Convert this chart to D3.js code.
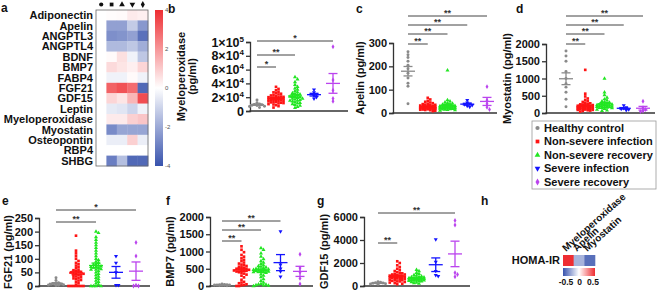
<!DOCTYPE html>
<html>
<head>
<meta charset="utf-8">
<script src="https://cdn.jsdelivr.net/npm/d3@7"></script>
<style>
body { margin:0; background:#fff; }
svg text { font-family:"Liberation Sans", Arial, sans-serif; font-weight:bold; fill:#111; }
</style>
</head>
<body>
<svg id="fig" width="658" height="291"></svg>
<script>
// grupos
const grupos = ["Healthy control", "Non-severe infection", "Non-severe recovery", "Severe infection", "Severe recovery"];

// heatmap (a): log2 fold change vs healthy control
const proteinas = ["Adiponectin","Apelin","ANGPTL3","ANGPTL4","BDNF","BMP7","FABP4","FGF21","GDF15","Leptin","Myeloperoxidase","Myostatin","Osteopontin","RBP4","SHBG"];
const fcNaoGraveInf = [0.05, -2.2, -2.6, -1.6, 0.1, 0.7, -0.3, 3.0, 0.8, -0.5, 0.4, -2.7, -0.4, 0, -3.0];
const fcNaoGraveRec = [0.1, -2.2, -2.5, -1.6, 0.6, 0.5, -0.3, 3.3, 0.5, -0.6, 0.4, -2.1, -0.4, 0, -1.5];
const fcGraveInf    = [0.4, -1.2, -2.2, -1.3, -0.3, 0.3, 0.1, 2.8, 1.4, -1.0, 0.9, -2.1, 0.9, 0, -3.5];
const fcGraveRec    = [0.3, -2.4, -3.3, -1.9, -1.3, 0.8, -0.3, -3.5, 3.4, -0.3, 1.1, -2.1, -0.4, 0, -3.5];
const escalaTicks = [4, 2, 0, -2, -4];

// b Myeloperoxidase
const mpoValores = [
  [5000, 6500, 7000, 8000, 8500, 9000, 9500, 10000, 12000, 16000],
  [5000, 7000, 8500, 9500, 10000, 11000, 11500, 12000, 13000, 13500, 14000, 14500, 15000, 15500, 16000, 16500, 17000, 17500, 18000, 18500, 19000, 19500, 20000, 20500, 21000, 22000, 22500, 23000, 24000, 25000, 26000, 27000, 28000, 30000, 32000, 35000, 16000, 18000, 20000, 12500],
  [4500, 6000, 8000, 9000, 10000, 11000, 12000, 13000, 14000, 15000, 16000, 17000, 18000, 19000, 20000, 21000, 22000, 23000, 24000, 25000, 26000, 27000, 29000, 31000, 33000, 35000, 38000, 42000, 46000, 49000, 15000, 18000, 21000],
  [18000, 20000, 22000, 24000, 27000, 31000],
  [93000, 45000, 30000, 18000, 14000]
];
const mpoTicks = [0, 20000, 40000, 60000, 80000, 100000];
const mpoSig = [[0, 4, "*"], [0, 2, "**"], [0, 1, "*"]];

// c Apelin
const apelinaValores = [
  [262, 250, 238, 222, 205, 190, 170, 150, 128, 115, 40],
  [8, 10, 12, 13, 14, 15, 16, 17, 18, 18, 19, 20, 20, 21, 22, 22, 23, 24, 25, 25, 26, 27, 28, 29, 30, 31, 32, 33, 35, 36, 38, 40, 42, 45, 48, 52, 58, 65, 20, 24],
  [10, 12, 14, 15, 16, 17, 18, 19, 20, 21, 22, 22, 23, 24, 25, 26, 27, 28, 29, 30, 31, 32, 34, 36, 38, 40, 43, 46, 50, 55, 183, 20, 24],
  [26, 30, 34, 37, 40, 44, 55],
  [113, 55, 40, 25, 15]
];
const apelinaTicks = [0, 100, 200, 300];
const apelinaSig = [[0, 4, "**"], [0, 3, "**"], [0, 2, "**"], [0, 1, "**"]];

// d Myostatin
const miostatinaValores = [
  [1800, 1650, 1500, 1200, 1000, 850, 750, 600, 400, 180],
  [40, 60, 70, 80, 90, 100, 110, 120, 130, 140, 150, 150, 160, 170, 180, 190, 200, 200, 210, 220, 230, 240, 250, 260, 280, 300, 320, 340, 380, 420, 480, 560, 1250, 120, 140, 160, 180, 200, 90, 110],
  [60, 80, 100, 120, 140, 150, 160, 170, 180, 190, 200, 210, 220, 230, 240, 250, 260, 280, 300, 320, 340, 370, 400, 450, 520, 600, 1000, 150, 200, 250, 180],
  [80, 100, 120, 140, 160, 220],
  [340, 150, 100, 60, 40]
];
const miostatinaTicks = [0, 500, 1000, 1500, 2000];
const miostatinaSig = [[0, 4, "**"], [0, 3, "**"], [0, 2, "**"], [0, 1, "**"]];

// e FGF21
const fgf21Valores = [
  [2, 3, 4, 5, 6, 7, 8, 10, 12, 20, 30],
  [0, 0, 0, 0, 0, 0, 0, 5, 10, 15, 20, 22, 25, 28, 30, 32, 35, 38, 40, 42, 45, 48, 50, 52, 55, 58, 60, 65, 70, 75, 80, 85, 92, 100, 110, 120, 130, 185, 45, 50],
  [0, 0, 0, 0, 5, 10, 15, 20, 25, 30, 35, 40, 45, 50, 55, 60, 62, 65, 68, 70, 72, 75, 78, 80, 85, 90, 95, 100, 110, 120, 130, 140, 150, 160, 170, 180, 195, 200, 60, 70],
  [110, 85, 50, 3, 3],
  [160, 110, 0, 0, 3]
];
const fgf21Ticks = [0, 50, 100, 150, 200, 250];
const fgf21Sig = [[0, 4, "*"], [0, 2, "**"]];

// f BMP7
const bmp7Valores = [
  [10, 15, 20, 25, 28, 30, 32, 35, 40, 45, 60],
  [0, 0, 20, 50, 80, 120, 180, 250, 300, 330, 360, 380, 400, 420, 440, 450, 460, 480, 500, 520, 540, 560, 580, 600, 620, 650, 680, 720, 760, 800, 850, 900, 980, 1050, 1150, 450, 470, 500, 30, 100],
  [0, 10, 20, 40, 60, 100, 150, 200, 260, 300, 340, 380, 400, 420, 440, 450, 460, 470, 480, 500, 520, 540, 560, 580, 600, 640, 680, 720, 780, 850, 950, 1050, 1100, 430, 460, 30, 50, 480, 500, 400],
  [1580, 620, 500, 420, 270],
  [920, 520, 400, 220, 60]
];
const bmp7Ticks = [0, 500, 1000, 1500, 2000];
const bmp7Sig = [[0, 3, "**"], [0, 2, "**"], [0, 1, "**"]];

// g GDF15
const gdf15Valores = [
  [150, 180, 200, 230, 260, 290, 320, 380],
  [150, 200, 250, 300, 350, 400, 450, 500, 550, 600, 650, 700, 720, 750, 780, 800, 820, 850, 880, 900, 950, 1000, 1050, 1100, 1150, 1200, 1300, 1400, 1500, 1650, 1800, 2000, 2150, 600, 700, 800, 900, 500, 400, 1000],
  [200, 250, 300, 350, 400, 420, 450, 480, 500, 520, 550, 580, 600, 620, 650, 680, 700, 720, 750, 780, 800, 850, 900, 950, 1050, 1150, 1300, 1400, 600, 550, 500, 650, 700],
  [4050, 2100, 1300, 950, 850],
  [5700, 5300, 1150, 800, 1000]
];
const gdf15Ticks = [0, 2000, 4000, 6000];
const gdf15Sig = [[0, 4, "**"], [0, 1, "**"]];

// h HOMA-IR correlation
const homaProteinas = ["Myeloperoxidase", "Apelin", "Myostatin"];
const homaValores = [0.5, -0.22, -0.42];
const homaTicks = [-0.5, 0, 0.5];

// ---------- estilo ----------
const cores = ["#8a8a8a", "#ff1414", "#22e622", "#1414ff", "#bb44ee"];
const simbolos = [d3.symbolCircle, d3.symbolSquare, d3.symbolTriangle, d3.symbolTriangle, d3.symbolDiamond];
const rotacao = [0, 0, 0, 180, 0];
const azul = "#3853ad", vermelho = "#ee2d32";

const svg = d3.select("#fig");

function marcador(g, i, x, y, tam, cor) {
    g.append("path")
        .attr("d", d3.symbol().type(simbolos[i]).size(tam)())
        .attr("transform", "translate(" + x + "," + y + ") rotate(" + rotacao[i] + ")")
        .attr("fill", cor || cores[i]);
}

// ---------- a: heatmap ----------
const colX = d3.scaleBand().domain(d3.range(5)).range([96, 148]);
const linhaY = d3.scaleBand().domain(proteinas).range([10, 166]);
const corHM = d3.scaleLinear().domain([-4, 0, 4]).range([azul, "#ffffff", vermelho]).clamp(true);

svg.append("text").attr("x", 1).attr("y", 12).attr("font-size", 12).text("a");

const gA = svg.append("g");
proteinas.forEach((p, i) => {
    const vals = [0, fcNaoGraveInf[i], fcNaoGraveRec[i], fcGraveInf[i], fcGraveRec[i]];
    vals.forEach((v, j) => {
        gA.append("rect")
            .attr("x", colX(j)).attr("y", linhaY(p))
            .attr("width", colX.bandwidth() + 0.3).attr("height", linhaY.bandwidth() + 0.3)
            .attr("fill", corHM(v));
    });
    gA.append("text")
        .attr("x", 93).attr("y", linhaY(p) + linhaY.bandwidth() / 2)
        .attr("dy", "0.36em").attr("text-anchor", "end").attr("font-size", 11)
        .text(p);
});
gA.append("rect").attr("x", 96).attr("y", 10).attr("width", 52).attr("height", 156)
    .attr("fill", "none").attr("stroke", "#666").attr("stroke-width", 0.8);
grupos.forEach((gr, j) => marcador(gA, j, colX(j) + colX.bandwidth() / 2, 4.5, 14, "#111"));

// colorbar
const defs = svg.append("defs");
const gradV = defs.append("linearGradient").attr("id", "gradV").attr("x1", 0).attr("y1", 1).attr("x2", 0).attr("y2", 0);
[-4, 0, 4].forEach((v, k) => gradV.append("stop").attr("offset", k / 2).attr("stop-color", corHM(v)));
svg.append("rect").attr("x", 155).attr("y", 10).attr("width", 8).attr("height", 156).attr("fill", "url(#gradV)");
const yCB = d3.scaleLinear().domain([-4, 4]).range([166, 10]);
svg.selectAll(".cbtick").data(escalaTicks).join("text")
    .attr("x", 165).attr("y", d => yCB(d) + 2)
    .attr("font-size", 6).style("font-weight", "normal").style("fill", "#555")
    .text(d => d);

// ---------- painéis de pontos ----------
function fmtSci(g) {
    g.selectAll(".tick text").each(function(d) {
        const t = d3.select(this);
        t.text(null);
        if (d === 0) { t.text("0"); return; }
        const e = Math.floor(Math.log10(d) + 1e-9);
        const m = Math.round(d / Math.pow(10, e));
        t.append("tspan").text(m + "\u00d710");
        t.append("tspan").attr("dy", -5).style("font-size", "8px").text(e);
    });
}

function enxame(vals, y, passo, maxW) {
    const pts = vals.map(v => ({ v: v, y: y(v) })).sort((a, b) => a.y - b.y);
    const postos = [];
    const cands = [0];
    for (let k = 1; k * passo <= maxW; k++) { cands.push(k * passo, -k * passo); }
    pts.forEach(p => {
        let melhor = 0, melhorD = -1;
        for (const dx of cands) {
            let dmin = Infinity;
            postos.forEach(q => { const d = Math.hypot(q.x - dx, q.y - p.y); if (d < dmin) dmin = d; });
            if (dmin >= passo) { melhor = dx; break; }
            if (dmin > melhorD) { melhorD = dmin; melhor = dx; }
        }
        p.x = melhor;
        postos.push(p);
    });
    return pts;
}

const paineis = [
    { letra: "b", lx: 168, ly: 13, dados: mpoValores, ticks: mpoTicks, sig: mpoSig, sci: true, fs: 12.5,
      eixoX: 250, xIni: 257, xFim: 333, fim: 348, yTop: 42, yBot: 111,
      titulo: ["Myeloperoxidase", "(pg/ml)"], tituloX: [185, 196], sigY: [41, 55, 67] },
    { letra: "c", lx: 356, ly: 13, dados: apelinaValores, ticks: apelinaTicks, sig: apelinaSig,
      eixoX: 393, xIni: 408, xFim: 487, fim: 497, yTop: 43, yBot: 113,
      titulo: ["Apelin (pg/ml)"], tituloX: [364], sigY: [16, 25, 34, 44] },
    { letra: "d", lx: 516, ly: 13, dados: miostatinaValores, ticks: miostatinaTicks, sig: miostatinaSig,
      eixoX: 546, xIni: 566, xFim: 643, fim: 655, yTop: 44, yBot: 113,
      titulo: ["Myostatin (pg/ml)"], tituloX: [511], sigY: [16, 25, 34, 44] },
    { letra: "e", lx: 2, ly: 205, dados: fgf21Valores, ticks: fgf21Ticks, sig: fgf21Sig,
      eixoX: 39, xIni: 56, xFim: 136, fim: 150, yTop: 218, yBot: 286,
      titulo: ["FGF21 (pg/ml)"], tituloX: [12], sigY: [210, 222] },
    { letra: "f", lx: 166, ly: 205, dados: bmp7Valores, ticks: bmp7Ticks, sig: bmp7Sig,
      eixoX: 210, xIni: 222, xFim: 300, fim: 313, yTop: 217, yBot: 286,
      titulo: ["BMP7 (pg/ml)"], tituloX: [174], sigY: [221, 230, 241] },
    { letra: "g", lx: 317, ly: 205, dados: gdf15Valores, ticks: gdf15Ticks, sig: gdf15Sig,
      eixoX: 364, xIni: 378, xFim: 455, fim: 470, yTop: 217, yBot: 286,
      titulo: ["GDF15 (pg/ml)"], tituloX: [328], sigY: [213, 243] }
];

paineis.forEach(P => {
    const g = svg.append("g");
    const x = d3.scalePoint().domain(d3.range(5)).range([P.xIni, P.xFim]);
    const y = d3.scaleLinear().domain([0, d3.max(P.ticks)]).range([P.yBot, P.yTop]);

    g.append("text").attr("x", P.lx).attr("y", P.ly).attr("font-size", 12).text(P.letra);

    // eixo y
    const eixo = g.append("g").attr("transform", "translate(" + P.eixoX + ",0)")
        .call(d3.axisLeft(y).tickValues(P.ticks).tickFormat(d3.format("d"))
            .tickSizeOuter(0).tickSize(4).tickPadding(2));
    eixo.select(".domain").attr("stroke", "#333").attr("stroke-width", 1.3);
    eixo.selectAll(".tick line").attr("stroke", "#333").attr("stroke-width", 1.3);
    eixo.selectAll(".tick text")
        .style("font-size", (P.fs || 11) + "px").style("font-weight", "bold")
        .style("font-family", "'Liberation Sans', Arial, sans-serif").style("fill", "#111");
    if (P.sci) fmtSci(eixo);

    // eixo x (linha)
    g.append("line").attr("x1", P.eixoX - 0.6).attr("x2", P.fim).attr("y1", P.yBot).attr("y2", P.yBot)
        .attr("stroke", "#333").attr("stroke-width", 1.3);

    // título
    const cy = (P.yTop + P.yBot) / 2;
    P.titulo.forEach((t, k) => {
        g.append("text").attr("transform", "translate(" + P.tituloX[k] + "," + cy + ") rotate(-90)")
            .attr("text-anchor", "middle").attr("font-size", 11).text(t);
    });

    // pontos
    P.dados.forEach((vals, i) => {
        const pts = enxame(vals, y, 2.5, 8);
        pts.forEach(p => marcador(g, i, x(i) + p.x, p.y, 7));
    });

    // média ± EPM
    P.dados.forEach((vals, i) => {
        const m = d3.mean(vals), s = d3.deviation(vals) / Math.sqrt(vals.length);
        const cx = x(i);
        const ln = (x1, x2, y1, y2) => g.append("line").attr("x1", x1).attr("x2", x2).attr("y1", y1).attr("y2", y2)
            .attr("stroke", cores[i]).attr("stroke-width", 1.3);
        ln(cx - 7, cx + 7, y(m), y(m));
        ln(cx, cx, y(m + s), y(Math.max(0, m - s)));
        ln(cx - 4.5, cx + 4.5, y(m + s), y(m + s));
        ln(cx - 4.5, cx + 4.5, y(Math.max(0, m - s)), y(Math.max(0, m - s)));
    });

    // significância
    P.sig.forEach((s, k) => {
        const yy = P.sigY[k];
        g.append("line").attr("x1", x(s[0])).attr("x2", x(s[1])).attr("y1", yy).attr("y2", yy)
            .attr("stroke", "#444").attr("stroke-width", 1);
        g.append("text").attr("x", (x(s[0]) + x(s[1])) / 2).attr("y", yy - 0.5)
            .attr("text-anchor", "middle").attr("font-size", 9).style("fill", "#333").text(s[2]);
    });
});

// ---------- legenda ----------
const gL = svg.append("g");
gL.append("rect").attr("x", 532).attr("y", 121).attr("width", 124).attr("height", 68)
    .attr("fill", "#fff").attr("stroke", "#999").attr("stroke-width", 0.8);
grupos.forEach((gr, i) => {
    const yy = 128 + i * 13.5;
    marcador(gL, i, 537.5, yy, 14);
    gL.append("text").attr("x", 544).attr("y", yy).attr("dy", "0.36em").attr("font-size", 11).text(gr);
});

// ---------- h ----------
svg.append("text").attr("x", 481).attr("y", 205).attr("font-size", 12).text("h");
const xH = d3.scaleBand().domain(homaProteinas).range([563, 595]);
const corH = d3.scaleLinear().domain([-0.5, 0, 0.5]).range([azul, "#ffffff", vermelho]).clamp(true);
const gH = svg.append("g");
homaProteinas.forEach((p, i) => {
    gH.append("rect").attr("x", xH(p)).attr("y", 255).attr("width", xH.bandwidth() + 0.3).attr("height", 11)
        .attr("fill", corH(homaValores[i]));
    gH.append("text").attr("transform", "translate(" + (xH(p) + 3) + ",252) rotate(-42)")
        .attr("font-size", 10).text(p);
});
gH.append("text").attr("x", 560).attr("y", 260.5).attr("dy", "0.36em").attr("text-anchor", "end")
    .attr("font-size", 11).text("HOMA-IR");
const gradH = defs.append("linearGradient").attr("id", "gradH");
[-0.5, 0, 0.5].forEach((v, k) => gradH.append("stop").attr("offset", k / 2).attr("stop-color", corH(v)));
gH.append("rect").attr("x", 563).attr("y", 268).attr("width", 32).attr("height", 8).attr("fill", "url(#gradH)");
const xHL = d3.scaleLinear().domain([-0.5, 0.5]).range([566, 593]);
gH.selectAll(".ht").data(homaTicks).join("text")
    .attr("x", d => xHL(d)).attr("y", 285).attr("text-anchor", "middle").attr("font-size", 8.5)
    .text(d => d);
</script>
</body>
</html>
